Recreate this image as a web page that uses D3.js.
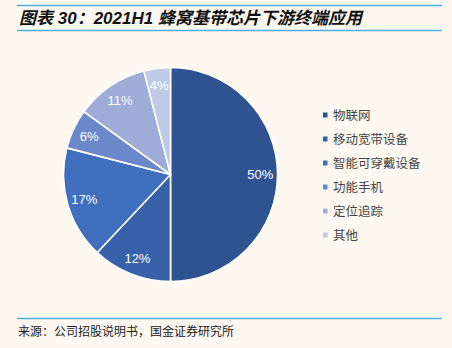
<!DOCTYPE html>
<html>
<head>
<meta charset="utf-8">
<script src="https://cdn.jsdelivr.net/npm/d3@7"></script>
<style>
  html, body { margin: 0; padding: 0; background: #fdf9f0; }
  svg { display: block; }
</style>
</head>
<body>
<svg id="chart" width="452" height="348"></svg>
<script>
// Terminal application shares of cellular baseband chips, 2021H1
const categories = ["物联网", "移动宽带设备", "智能可穿戴设备", "功能手机", "定位追踪", "其他"];
const shares = [50, 12, 17, 6, 11, 4];
const sliceColors = ["#2f5391", "#3761a9", "#406fbe", "#6b88ca", "#9eadd8", "#c0c9e5"];

const titleText = "图表 30：2021H1 蜂窝基带芯片下游终端应用";
const sourceText = "来源：公司招股说明书，国金证券研究所";

const svg = d3.select("#chart");
const W = 452, H = 348;

svg.append("rect").attr("width", W).attr("height", H).attr("fill", "#fdf9f0");

// header and footer rules
const rule = "#4baee0";
[5.5, 30.5, 318.5].forEach(y => {
  svg.append("line")
    .attr("x1", 17).attr("x2", 442).attr("y1", y).attr("y2", y)
    .attr("stroke", rule).attr("stroke-width", 1.6);
});

svg.append("text")
  .attr("x", 19).attr("y", 24)
  .attr("font-family", "'Liberation Sans', 'Noto Sans CJK SC', sans-serif")
  .attr("font-size", 17)
  .attr("font-weight", "bold")
  .attr("font-style", "italic")
  .attr("fill", "#111")
  .text(titleText);

svg.append("text")
  .attr("x", 18).attr("y", 336)
  .attr("font-family", "'Noto Sans CJK SC', sans-serif")
  .attr("font-size", 12)
  .attr("fill", "#222")
  .text(sourceText);

// pie
const cx = 170.5, cy = 174.5, R = 107;
const pie = d3.pie().value(d => d.value).sort(null);
const arc = d3.arc().innerRadius(0).outerRadius(R);
const labelArc = d3.arc().innerRadius(R * 0.84).outerRadius(R * 0.84);

const data = categories.map((c, i) => ({ name: c, value: shares[i], color: sliceColors[i] }));
const arcs = pie(data);

const g = svg.append("g").attr("transform", `translate(${cx},${cy})`);
g.selectAll("path.slice")
  .data(arcs)
  .join("path")
  .attr("class", "slice")
  .attr("d", arc)
  .attr("fill", d => d.data.color)
  .attr("stroke", "#ffffff")
  .attr("stroke-width", 1.6)
  .attr("stroke-linejoin", "round");

g.selectAll("text.pct")
  .data(arcs)
  .join("text")
  .attr("class", "pct")
  .attr("transform", d => `translate(${labelArc.centroid(d)})`)
  .attr("text-anchor", "middle")
  .attr("dy", "0.36em")
  .attr("font-family", "'Liberation Sans', Arial, sans-serif")
  .attr("font-size", 13)
  .attr("fill", "#ffffff")
  .text(d => d.data.value + "%");

// legend
const legendY = d3.scalePoint().domain(categories).range([115, 235]);
const lg = svg.append("g");
const items = lg.selectAll("g.item")
  .data(data)
  .join("g")
  .attr("class", "item")
  .attr("transform", d => `translate(323,${legendY(d.name)})`);
items.append("rect")
  .attr("x", 0).attr("y", -2.5).attr("width", 4.5).attr("height", 5)
  .attr("fill", d => d.color);
items.append("text")
  .attr("x", 10).attr("y", 0).attr("dy", "0.38em")
  .attr("font-family", "'Noto Sans CJK SC', sans-serif")
  .attr("font-size", 12.5)
  .attr("fill", "#444")
  .text(d => d.name);
</script>
</body>
</html>
